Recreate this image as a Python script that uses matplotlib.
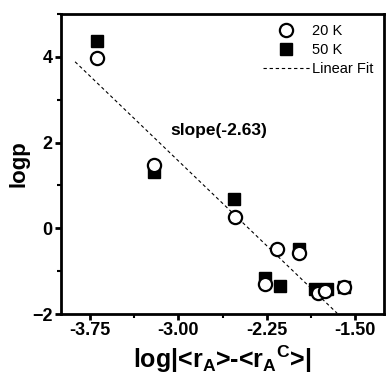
import matplotlib
matplotlib.use('Agg')
from matplotlib import pyplot as plt
from matplotlib.ticker import MultipleLocator
import numpy as np

plt.rcParams['font.family'] = ['Liberation Sans', 'DejaVu Sans']
plt.rcParams['mathtext.fontset'] = 'custom'
plt.rcParams['mathtext.rm'] = 'Liberation Sans:bold'
plt.rcParams['mathtext.it'] = 'Liberation Sans:bold'
plt.rcParams['mathtext.bf'] = 'Liberation Sans:bold'

# 20 K data
x20 = [-3.69, -3.21, -2.52, -2.16, -1.97, -2.26, -1.81, -1.75, -1.59]
y20 = [3.97, 1.47, 0.26, -0.48, -0.58, -1.29, -1.50, -1.46, -1.38]

# 50 K data
x50 = [-3.69, -3.21, -2.53, -1.97, -2.26, -2.14, -1.84, -1.74, -1.59]
y50 = [4.37, 1.31, 0.69, -0.48, -1.15, -1.34, -1.41, -1.41, -1.38]

# linear fit
slope = -2.63
intercept = -6.32
fit_x = np.array([-3.88, -1.65])
fit_y = slope * fit_x + intercept

fig = plt.figure(figsize=(3.86, 3.77), dpi=100)
ax = fig.add_axes([0.158, 0.167, 0.837, 0.796])

ax.plot(x50, y50, 's', color='black', markersize=9, label='50 K', zorder=2)
ax.plot(x20, y20, 'o', markerfacecolor='white', markeredgecolor='black',
        markeredgewidth=1.6, markersize=9.5, label='20 K', zorder=3)
ax.plot(fit_x, fit_y, color='black', linewidth=0.8, linestyle=(0, (3, 2.5)),
        label='Linear Fit', zorder=1)

ax.text(-2.66, 2.28, 'slope(-2.63)', fontsize=12.5, fontweight='bold',
        ha='center', va='center')

ax.set_xlim(-4.0, -1.25)
ax.set_ylim(-2, 5)
ax.xaxis.set_minor_locator(MultipleLocator(0.375))
ax.set_xticks([-3.75, -3.0, -2.25, -1.5])
ax.set_xticklabels(['-3.75', '-3.00', '-2.25', '-1.50'])
ax.set_yticks([-2, 0, 2, 4])
ax.yaxis.set_minor_locator(MultipleLocator(1))

for s in ax.spines.values():
    s.set_linewidth(2)
ax.tick_params(which='major', direction='out', length=4, width=2,
               labelsize=13, pad=2)
ax.tick_params(which='minor', direction='out', length=3, width=1.5)
for lab in ax.get_xticklabels() + ax.get_yticklabels():
    lab.set_fontweight('bold')

ax.set_ylabel('logp', fontsize=16, fontweight='bold', labelpad=2)
ax.set_xlabel(r'log|<r$_{A}$>-<r$_{A}$$^{C}$>|', fontsize=18,
              fontweight='bold', labelpad=3)

handles, labels = ax.get_legend_handles_labels()
order = [1, 0, 2]
ax.legend([handles[i] for i in order], [labels[i] for i in order],
          loc='upper right', frameon=False, fontsize=10.5, handlelength=3.2,
          handletextpad=0.2, labelspacing=0.35, borderaxespad=0.3)

fig.savefig('out.png', dpi=100)
